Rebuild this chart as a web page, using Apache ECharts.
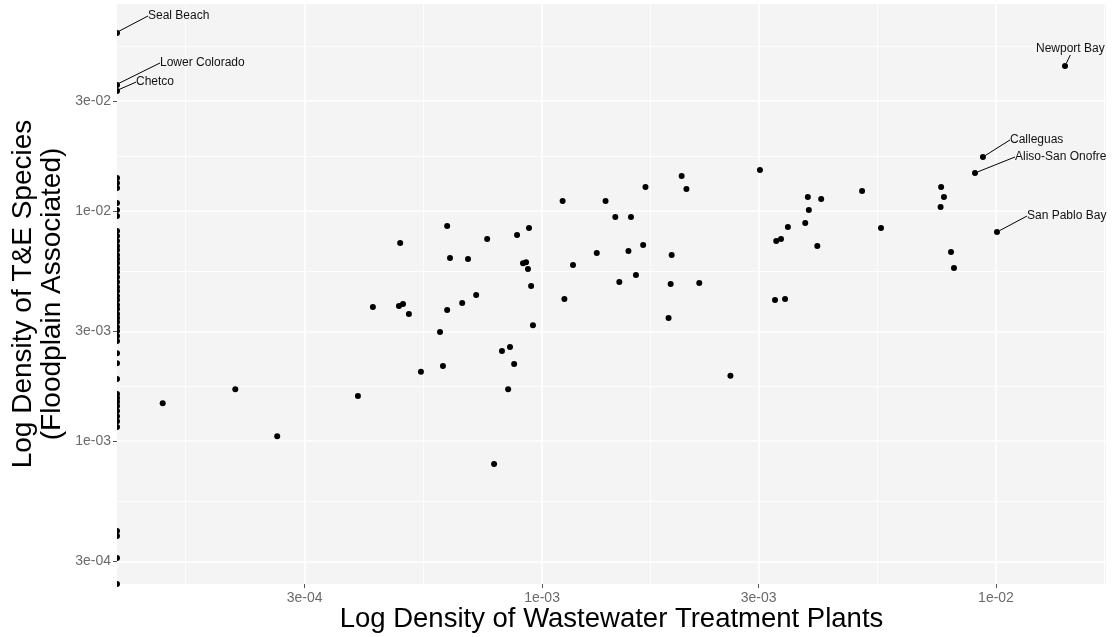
<!DOCTYPE html>
<html>
<head>
<meta charset="utf-8">
<script src="https://cdn.jsdelivr.net/npm/echarts@6/dist/echarts.min.js"></script>
<style>
  html, body { margin: 0; padding: 0; background: #fff; }
  #chart { width: 1114px; height: 637px; }
</style>
</head>
<body>
<div id="chart"></div>
<script>
  // axis ranges and ticks (log10 scales)
  const xMin = 0.0001158, xMax = 0.01747
  const yMin = 0.000239, yMax = 0.0794
  const xTicks = [0.0003, 0.001, 0.003, 0.01]
  const xTickLabels = ['3e-04', '1e-03', '3e-03', '1e-02']
  const yTicks = [0.0003, 0.001, 0.003, 0.01, 0.03]
  const yTickLabels = ['3e-04', '1e-03', '3e-03', '1e-02', '3e-02']
  const xMinor = [0.000164, 0.000548, 0.001732, 0.00548, 0.01732]
  const yMinor = [0.000548, 0.001732, 0.00548, 0.01732, 0.0519]

  // labelled watersheds
  const regionNames = ['Seal Beach', 'Lower Colorado', 'Chetco', 'Newport Bay', 'Calleguas', 'Aliso-San Onofre', 'San Pablo Bay']
  const regionWwtp = [xMin, xMin, xMin, 0.01419, 0.00936, 0.00899, 0.01005]
  const regionTE = [0.0594, 0.0353, 0.0332, 0.0427, 0.01717, 0.01463, 0.0081]
  // label nudges (px)
  const labelDx = [23, 35, 11, -37, 19, 32, 22]
  const labelDy = [-17, -22, -9, -17, -17, -16, -16]

  // other watersheds
  const wwtpDensity = [
    0.00507, 0.00558, 0.00757, 0.00768, 0.00755, 0.00796, 0.00808, 0.00302, 0.00385, 0.00412,
    0.00387, 0.0038, 0.00348, 0.00328, 0.00336, 0.00404, 0.00326, 0.00343, 0.0026, 0.00111,
    0.00112, 0.00117, 0.00132, 0.00138, 0.00145, 0.00157, 0.00148, 0.00155, 0.00161, 0.00167,
    0.00169, 0.0019, 0.00192, 0.00193, 0.00203, 0.00208, 0.00222, 0.000618, 0.000936, 0.000881,
    0.000757, 0.000487, 0.000627, 0.000687, 0.000908, 0.000922, 0.000931, 0.000946, 0.000716, 0.000667,
    0.000424, 0.000484, 0.000494, 0.000509, 0.000618, 0.000955, 0.000596, 0.00085, 0.000816, 0.000868,
    0.000605, 0.000541, 0.000842, 0.000393, 0.000146, 0.000211, 0.000261, 0.000784
  ]
  const teDensity = [
    0.01222, 0.00844, 0.01272, 0.0115, 0.01041, 0.00663, 0.00565, 0.01508, 0.0115, 0.01128,
    0.0101, 0.00887, 0.00852, 0.00741, 0.00755, 0.00704, 0.0041, 0.00414, 0.00192, 0.01106,
    0.00414, 0.00582, 0.00657, 0.01106, 0.00942, 0.00942, 0.00491, 0.0067, 0.00527, 0.00712,
    0.01272, 0.00343, 0.00482, 0.00644, 0.0142, 0.01246, 0.00486, 0.00861, 0.00844, 0.00786,
    0.00755, 0.00726, 0.00625, 0.00618, 0.00592, 0.00598, 0.0056, 0.00472, 0.00431, 0.00398,
    0.00382, 0.00386, 0.00394, 0.00357, 0.00371, 0.00319, 0.00298, 0.00256, 0.00246, 0.00216,
    0.00212, 0.002, 0.00168, 0.00157, 0.00146, 0.00168, 0.00105, 0.000794
  ]
  // watersheds with (near) zero plants, drawn at the left limit
  const edgeTE = [
    0.01392, 0.01323, 0.01259, 0.01083, 0.0101, 0.00951, 0.00818, 0.00779, 0.00741, 0.00704,
    0.00677, 0.00644, 0.00618, 0.00594, 0.00565, 0.00543, 0.00516, 0.00491, 0.00467, 0.00449,
    0.00427, 0.0041, 0.0039, 0.00375, 0.00357, 0.00343, 0.00329, 0.00313, 0.00301, 0.00286,
    0.00272, 0.00241, 0.00218, 0.00186, 0.0016, 0.00154, 0.00148, 0.00142, 0.00135, 0.00128,
    0.00122, 0.00115, 0.000406, 0.000386, 0.00031, 0.000239
  ]

  const font = 'Liberation Sans, Arial, sans-serif'
  // dots sitting on the left limit are cut by the panel edge
  const halfDot = 'path://M0,0 A10,10 0 0,1 0,20 Z'

  function tickLabel(ticks, labels) {
    return function (v) {
      let i = ticks.findIndex(t => Math.abs(t - v) / t < 1e-6)
      return i >= 0 ? labels[i] : ''
    }
  }

  let points = wwtpDensity.map((x, i) => [x, teDensity[i]])
  let edgePoints = edgeTE.map(y => [xMin, y])
  let named = regionNames.map((n, i) => {
    let item = { name: n, value: [regionWwtp[i], regionTE[i]] }
    if (regionWwtp[i] === xMin) {
      item.symbol = halfDot
      item.symbolSize = [3, 6]
      item.symbolOffset = [1.5, 0]
    }
    return item
  })

  let chart = echarts.init(document.getElementById('chart'))
  let option = {
    animation: false,
    textStyle: { fontFamily: font },
    grid: {
      left: 117, right: 8, top: 4, bottom: 53,
      outerBoundsMode: 'none',
      show: true, backgroundColor: '#F4F4F4', borderWidth: 0
    },
    xAxis: [
      {
        type: 'log', min: xMin, max: xMax, position: 'bottom',
        name: 'Log Density of Wastewater Treatment Plants',
        nameLocation: 'middle', nameGap: 21, nameMoveOverlap: false,
        nameTextStyle: { fontSize: 27.5, color: '#000', fontFamily: font },
        axisLine: { show: false },
        axisTick: { show: true, customValues: xTicks, length: 4, lineStyle: { color: '#555' } },
        axisLabel: { customValues: xTicks, formatter: tickLabel(xTicks, xTickLabels), fontSize: 14, color: '#6a6a6a', margin: 7 },
        splitLine: { show: true, lineStyle: { color: '#fff', width: 1.6 } },
        z: 2
      },
      {
        type: 'log', min: xMin, max: xMax, position: 'top',
        axisLine: { show: false },
        axisTick: { show: false, customValues: xMinor },
        axisLabel: { show: false },
        splitLine: { show: true, lineStyle: { color: '#fff', width: 0.8 } },
        z: 1
      }
    ],
    yAxis: [
      {
        type: 'log', min: yMin, max: yMax, position: 'left',
        name: 'Log Density of T&E Species\n(Floodplain Associated)',
        nameLocation: 'middle', nameGap: 50, nameMoveOverlap: false,
        nameTextStyle: { fontSize: 28, lineHeight: 29, color: '#000', fontFamily: font },
        axisLine: { show: false },
        axisTick: { show: true, customValues: yTicks, length: 4, lineStyle: { color: '#555' } },
        axisLabel: { customValues: yTicks, formatter: tickLabel(yTicks, yTickLabels), fontSize: 14, color: '#6a6a6a', margin: 6 },
        splitLine: { show: true, lineStyle: { color: '#fff', width: 1.6 } },
        z: 2
      },
      {
        type: 'log', min: yMin, max: yMax, position: 'right',
        axisLine: { show: false },
        axisTick: { show: false, customValues: yMinor },
        axisLabel: { show: false },
        splitLine: { show: true, lineStyle: { color: '#fff', width: 0.8 } },
        z: 1
      }
    ],
    series: [
      {
        type: 'scatter',
        xAxisIndex: 0, yAxisIndex: 0,
        symbolSize: 6,
        itemStyle: { color: '#000', opacity: 1 },
        data: points
      },
      {
        type: 'scatter',
        xAxisIndex: 0, yAxisIndex: 0,
        symbol: halfDot,
        symbolSize: [3, 6],
        symbolOffset: [1.5, 0],
        itemStyle: { color: '#000', opacity: 1 },
        data: edgePoints
      },
      {
        type: 'scatter',
        xAxisIndex: 0, yAxisIndex: 0,
        symbolSize: 6,
        itemStyle: { color: '#000', opacity: 1 },
        label: {
          show: true, position: 'right', distance: 5,
          formatter: '{b}', fontSize: 12, color: '#111', fontFamily: font
        },
        labelLine: { show: true, lineStyle: { color: '#000', width: 1 } },
        labelLayout: function (params) {
          let i = params.dataIndex
          return { dx: labelDx[i], dy: labelDy[i] }
        },
        data: named
      }
    ]
  }
  chart.setOption(option)
</script>
</body>
</html>
